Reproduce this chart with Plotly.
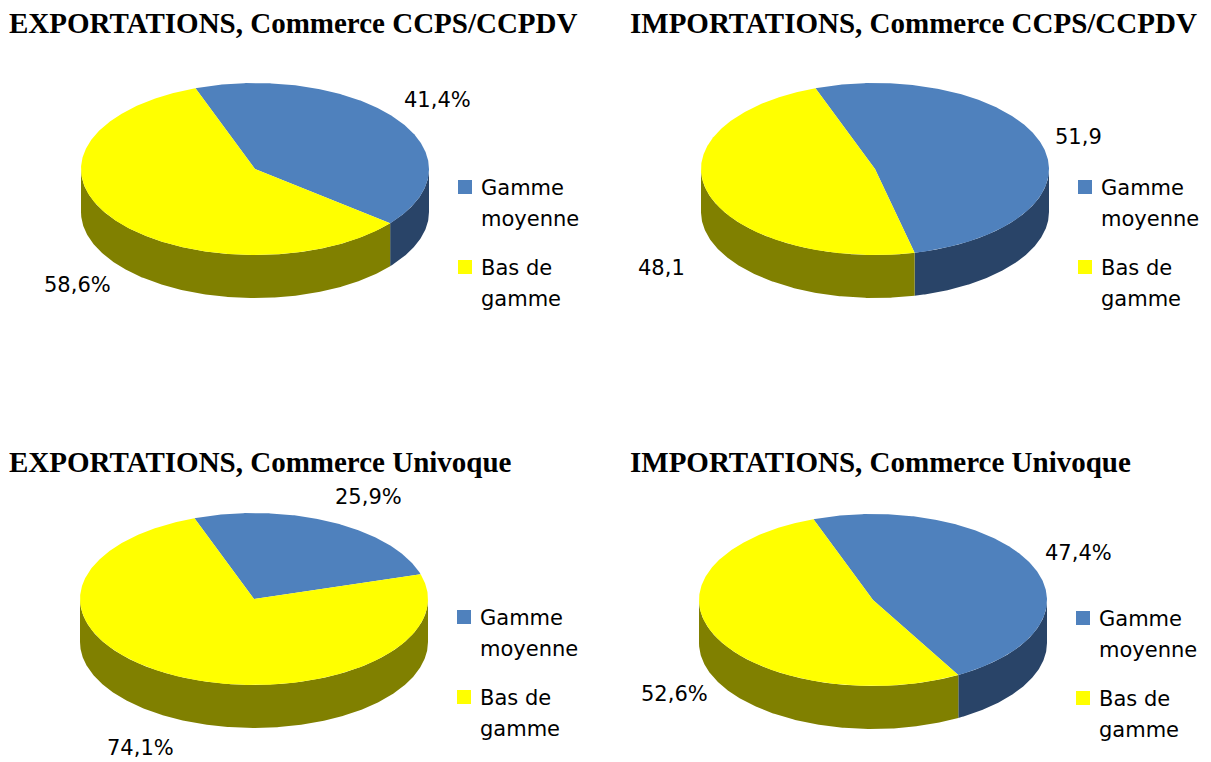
import textwrap
import numpy as np
import plotly.graph_objects as go

# ---------------- data ----------------
titles = [
    "EXPORTATIONS, Commerce CCPS/CCPDV",
    "IMPORTATIONS, Commerce CCPS/CCPDV",
    "EXPORTATIONS, Commerce Univoque",
    "IMPORTATIONS, Commerce Univoque",
]
categories = ["Gamme moyenne", "Bas de gamme"]
gamme_moyenne = [41.4, 51.9, 25.9, 47.4]
bas_de_gamme = [58.6, 48.1, 74.1, 52.6]
label_suffix = ["%", "", "%", "%"]

# ---------------- layout / style ----------------
W, H = 1211, 762
top_colors = ["#4F81BD", "#FFFF00"]
side_colors = ["#294468", "#808000"]
RX, RY, DEPTH = 174, 86, 43
START = 110.0  # degrees, first slice starts here and goes clockwise
centers = [(255, 169), (875, 169), (254, 599), (873, 600)]
title_pos = [(7, 23), (628, 23), (7, 462), (628, 462)]
# label offsets relative to pie centre (blue, yellow)
label_off = [
    [(182, -69), (-178, 116)],
    [(203, -32), (-214, 99)],
    [(114, -102), (-114, 149)],
    [(205, -47), (-199, 94)],
]
legend_off = (210, 18)      # square position relative to centre
legend_gap = 80
line_gap = 31

font_txt = dict(family="DejaVu Sans", size=21, color="#000000")
font_title = dict(family="Liberation Serif", size=29, color="#000000")

fig = go.Figure()
annotations = []


def arc(cx, cy, t0, t1, n=None, dy=0):
    if n is None:
        n = max(2, int(abs(t1 - t0) * 2) + 2)
    t = np.radians(np.linspace(t0, t1, n))
    return cx + RX * np.cos(t), cy - RY * np.sin(t) + dy


for i in range(4):
    cx, cy = centers[i]
    vals = [gamme_moyenne[i], bas_de_gamme[i]]
    total = sum(vals)
    bounds = [START]
    for v in vals:
        bounds.append(bounds[-1] - 360.0 * v / total)

    # side walls (front half: sin(t) <= 0)
    for k, v in enumerate(vals):
        a1, a2 = bounds[k], bounds[k + 1]
        for m in range(-2, 2):
            lo = max(a2, -180 + 360 * m)
            hi = min(a1, 360 * m)
            if hi - lo <= 0:
                continue
            xt, yt = arc(cx, cy, lo, hi)
            xb, yb = arc(cx, cy, hi, lo, dy=DEPTH)
            xs = np.concatenate([xt, xb, xt[:1]])
            ys = np.concatenate([yt, yb, yt[:1]])
            fig.add_trace(go.Scatter(
                x=xs, y=ys, mode="lines", fill="toself",
                fillcolor=side_colors[k], line=dict(width=0, color=side_colors[k]),
                hoverinfo="skip", showlegend=False))

    # top faces
    for k, v in enumerate(vals):
        a1, a2 = bounds[k], bounds[k + 1]
        xa, ya = arc(cx, cy, a1, a2)
        xs = np.concatenate([[cx], xa, [cx]])
        ys = np.concatenate([[cy], ya, [cy]])
        fig.add_trace(go.Scatter(
            x=xs, y=ys, mode="lines", fill="toself",
            fillcolor=top_colors[k], line=dict(width=0, color=top_colors[k]),
            hoverinfo="text", text=f"{categories[k]}: {v}", showlegend=False))

        # data label
        ox, oy = label_off[i][k]
        annotations.append(dict(
            x=cx + ox, y=cy + oy, xref="x", yref="y", showarrow=False,
            text=(f"{v:.1f}".replace(".", ",") + label_suffix[i]),
            font=font_txt, xanchor="center", yanchor="middle"))

    # legend
    lx, ly = cx + legend_off[0], cy + legend_off[1]
    for k, cat in enumerate(categories):
        yy = ly + k * legend_gap
        fig.add_trace(go.Scatter(
            x=[lx], y=[yy], mode="markers",
            marker=dict(symbol="square", size=14, color=top_colors[k], line=dict(width=0)),
            hoverinfo="skip", showlegend=False))
        for j, line in enumerate(textwrap.wrap(cat, 7)):
            annotations.append(dict(
                x=lx + 14, y=yy + 1 + j * line_gap, xref="x", yref="y", showarrow=False,
                text=line, font=font_txt, xanchor="left", yanchor="middle"))

    # title
    tx, ty = title_pos[i]
    annotations.append(dict(
        x=tx, y=ty, xref="x", yref="y", showarrow=False,
        text=f"<b>{titles[i]}</b>", font=font_title, xanchor="left", yanchor="middle"))

fig.update_layout(
    width=W, height=H,
    margin=dict(l=0, r=0, t=0, b=0),
    paper_bgcolor="white", plot_bgcolor="white",
    xaxis=dict(range=[0, W], visible=False, fixedrange=True),
    yaxis=dict(range=[H, 0], visible=False, fixedrange=True),
    annotations=annotations,
    showlegend=False,
)

fig.write_html(
    "out.html",
    config={"displayModeBar": False},
    post_script="document.body.style.margin='0px';document.body.style.overflow='hidden';",
)
